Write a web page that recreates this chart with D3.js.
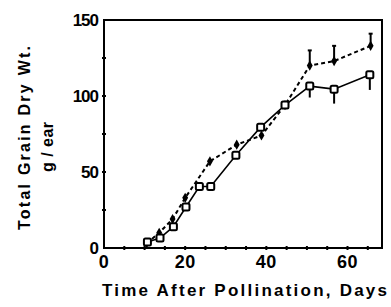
<!DOCTYPE html>
<html>
<head>
<meta charset="utf-8">
<title>Total Grain Dry Wt.</title>
<style>
  body { margin: 0; background: #fff; }
  svg { display: block; }
  text { font-family: "Liberation Sans", Arial, sans-serif; font-weight: bold; fill: #000; }
</style>
<script src="https://d3js.org/d3.v7.min.js"></script>
</head>
<body>
<svg id="chart"></svg>
<script>
// solid line, open squares
var sqDays = [10.7, 13.8, 17.1, 20.2, 23.5, 26.3, 32.5, 38.6, 44.6, 50.7, 56.7, 65.5];
var sqWt   = [4, 6.5, 14, 27, 40.5, 40.5, 61, 79.5, 94, 106.5, 104.5, 114];
var sqLow  = [null, null, null, null, null, null, null, null, null, 99, 95, 104];

// dashed line, filled diamonds
var dmDays = [10.5, 13.6, 16.9, 20, 26.1, 32.7, 38.8, 44.6, 50.7, 56.7, 65.7];
var dmWt   = [3, 10, 19, 33, 57, 68, 74, 94, 120, 123, 133];
var dmHigh = [null, null, null, null, null, null, null, null, 130, 133, 141];

var xTicks = [0, 20, 40, 60];
var yTicks = [0, 50, 100, 150];

var W = 391, H = 307;
var svg = d3.select("#chart").attr("width", W).attr("height", H);

var x = d3.scaleLinear().domain([0, 68.5]).range([104, 382]);
var y = d3.scaleLinear().domain([0, 150]).range([248, 20]);

// frame
svg.append("rect")
  .attr("x", x(0)).attr("y", y(150))
  .attr("width", x(68.5) - x(0)).attr("height", y(0) - y(150))
  .attr("fill", "none").attr("stroke", "#000").attr("stroke-width", 2);

// minor tick dots
svg.append("g").selectAll("line")
  .data(d3.range(5, 68, 5))
  .join("line")
  .attr("x1", d => x(d)).attr("x2", d => x(d))
  .attr("y1", y(0) - 2).attr("y2", y(0) + 2)
  .attr("stroke", "#000").attr("stroke-width", 2);

svg.append("g").selectAll("line")
  .data(d3.range(25, 150, 25))
  .join("line")
  .attr("y1", d => y(d)).attr("y2", d => y(d))
  .attr("x1", x(0) - 2).attr("x2", x(0) + 2)
  .attr("stroke", "#000").attr("stroke-width", 2);

// tick labels
svg.append("g").selectAll("text")
  .data(xTicks)
  .join("text")
  .attr("x", d => x(d)).attr("y", 268)
  .attr("text-anchor", "middle")
  .style("font-size", "18px")
  .style("letter-spacing", "0.5px")
  .text(d => d);

svg.append("g").selectAll("text")
  .data(yTicks)
  .join("text")
  .attr("x", 98).attr("y", d => y(d) + 6)
  .attr("text-anchor", "end")
  .style("font-size", "17px")
  .style("letter-spacing", "-1px")
  .text(d => d);

// axis titles
svg.append("text")
  .attr("x", 102).attr("y", 296)
  .attr("textLength", 285)
  .attr("lengthAdjust", "spacing")
  .style("font-size", "17px")
  .text("Time After Pollination, Days");

svg.append("text")
  .attr("transform", "translate(30,230) rotate(-90)")
  .attr("textLength", 184)
  .attr("lengthAdjust", "spacing")
  .style("font-size", "16px")
  .text("Total Grain Dry Wt.");

svg.append("text")
  .attr("transform", "translate(53,172) rotate(-90)")
  .attr("textLength", 50)
  .attr("lengthAdjust", "spacing")
  .style("font-size", "16px")
  .text("g / ear");

var sq = sqDays.map((d, i) => ({ d: d, v: sqWt[i], e: sqLow[i] }));
var dm = dmDays.map((d, i) => ({ d: d, v: dmWt[i], e: dmHigh[i] }));

var line = d3.line().x(p => x(p.d)).y(p => y(p.v));

// error bars
svg.append("g").selectAll("line")
  .data(dm.filter(p => p.e != null))
  .join("line")
  .attr("x1", p => x(p.d)).attr("x2", p => x(p.d))
  .attr("y1", p => y(p.v)).attr("y2", p => y(p.e))
  .attr("stroke", "#000").attr("stroke-width", 2);
svg.append("g").selectAll("line")
  .data(dm.filter(p => p.e != null))
  .join("line")
  .attr("x1", p => x(p.d) - 2).attr("x2", p => x(p.d) + 2)
  .attr("y1", p => y(p.e)).attr("y2", p => y(p.e))
  .attr("stroke", "#000").attr("stroke-width", 2);

svg.append("g").selectAll("line")
  .data(sq.filter(p => p.e != null))
  .join("line")
  .attr("x1", p => x(p.d)).attr("x2", p => x(p.d))
  .attr("y1", p => y(p.v)).attr("y2", p => y(p.e))
  .attr("stroke", "#000").attr("stroke-width", 2);

// lines
svg.append("path").datum(dm)
  .attr("d", line)
  .attr("fill", "none").attr("stroke", "#000")
  .attr("stroke-width", 2).attr("stroke-dasharray", "4,3");

svg.append("path").datum(sq)
  .attr("d", line)
  .attr("fill", "none").attr("stroke", "#000")
  .attr("stroke-width", 1.6);

// markers
svg.append("g").selectAll("path")
  .data(dm)
  .join("path")
  .attr("transform", p => `translate(${x(p.d)},${y(p.v)})`)
  .attr("d", d3.symbol(d3.symbolDiamond, 30))
  .attr("fill", "#000");

svg.append("g").selectAll("rect")
  .data(sq)
  .join("rect")
  .attr("x", p => x(p.d) - 3.5).attr("y", p => y(p.v) - 3.5)
  .attr("width", 7).attr("height", 7)
  .attr("rx", 1.5)
  .attr("fill", "#fff").attr("stroke", "#000").attr("stroke-width", 2);
</script>
</body>
</html>
